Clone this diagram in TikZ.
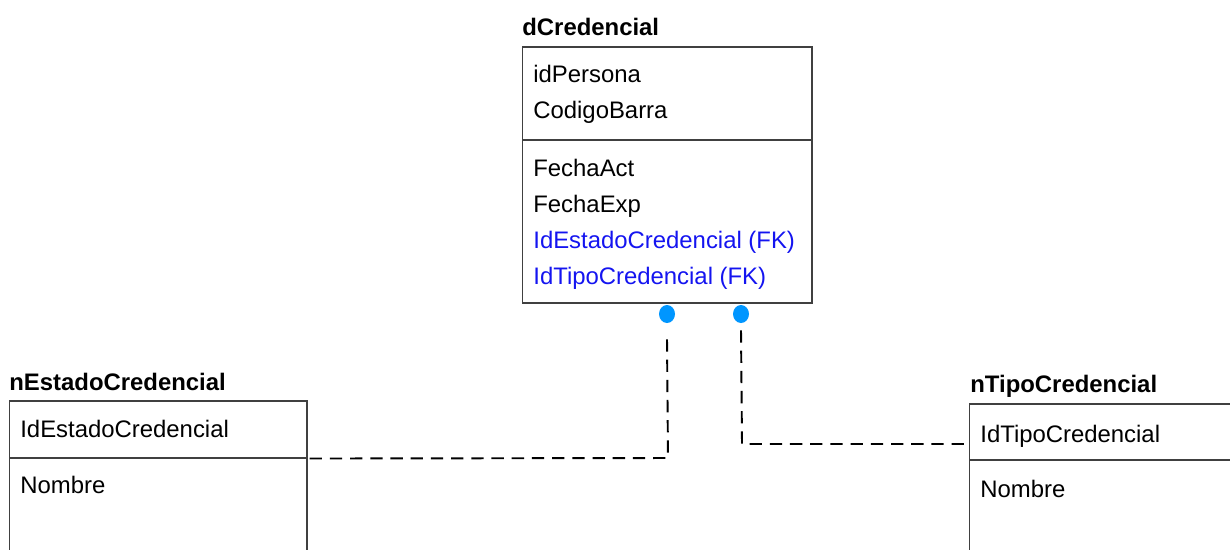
\documentclass[tikz,border=0pt]{standalone}
\usepackage{fontspec}
\setmainfont{Liberation Sans}
\usetikzlibrary{shapes,positioning,calc}

\begin{document}
\begin{tikzpicture}[x=0.02cm, y=-0.02cm,
        every node/.style={font=\fontsize{13.6}{16}\selectfont},
        tbl/.style={draw=black!75, line width=0.6pt, inner sep=0pt},
        fld/.style={anchor=base west, inner sep=0pt},
        ttl/.style={anchor=base west, inner sep=0pt, font=\fontsize{13.6}{16}\selectfont\bfseries},
        rel/.style={dashed, line width=1.1pt, dash pattern=on 7pt off 4.5pt},
        dot/.style={ellipse, fill=erdot, inner sep=0pt, minimum width=0.32cm, minimum height=0.36cm}]
        \definecolor{erblue}{RGB}{20,20,240}
        \definecolor{erdot}{RGB}{0,150,255}

        \clip (0,0) rectangle (1230,549);

        % dCredencial table
        \node[ttl] (credTitle) at (522,35) {dCredencial};
        \node[tbl, minimum width=5.8cm, minimum height=1.86cm] (credKey) at (667,93.5) {};
        \node[tbl, minimum width=5.8cm, minimum height=3.26cm] (credAttr) at (667,221.5) {};
        \node[fld] (cf1) at (533,82) {idPersona};
        \node[fld] (cf2) at (533,118) {CodigoBarra};
        \node[fld] (cf3) at (533,176) {FechaAct};
        \node[fld] (cf4) at (533,212) {FechaExp};
        \node[fld, text=erblue] (cf5) at (533,248) {IdEstadoCredencial (FK)};
        \node[fld, text=erblue] (cf6) at (533,284) {IdTipoCredencial (FK)};

        % nEstadoCredencial table
        \node[ttl] (estTitle) at (9,390) {nEstadoCredencial};
        \node[tbl, minimum width=5.96cm, minimum height=1.14cm] (estKey) at (158,429.5) {};
        \node[tbl, minimum width=5.96cm, minimum height=2cm] (estAttr) at (158,508) {};
        \node[fld] (ef1) at (20,437) {IdEstadoCredencial};
        \node[fld] (ef2) at (20,493) {Nombre};

        % nTipoCredencial table
        \node[ttl] (tipTitle) at (970,392) {nTipoCredencial};
        \node[tbl, minimum width=6cm, minimum height=1.12cm] (tipKey) at (1119,432) {};
        \node[tbl, minimum width=6cm, minimum height=2cm] (tipAttr) at (1119,510) {};
        \node[fld] (tf1) at (980,442) {IdTipoCredencial};
        \node[fld] (tf2) at (980,497) {Nombre};

        % Relationship ends
        \node[dot] (estDot) at (667,314) {};
        \node[dot] (tipDot) at (741,314) {};
        \coordinate (estBend) at (668,458);
        \coordinate (tipBend) at (742,444);

        % Relationships
        \draw[rel] ([yshift=-0.32cm]estDot.south) -- (estBend) -- (estKey.south east);
        \draw[rel] ([yshift=-0.14cm]tipDot.south) -- (tipBend) -- (tipBend -| tipKey.west);
    \end{tikzpicture}
\end{document}
